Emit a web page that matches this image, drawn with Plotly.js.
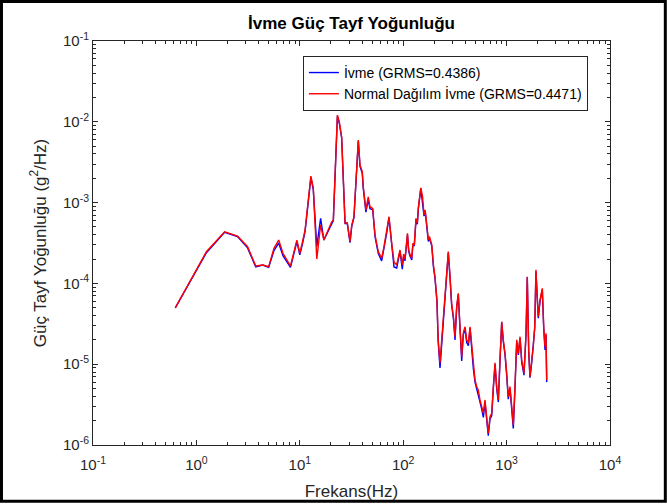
<!DOCTYPE html>
<html>
<head>
<meta charset="utf-8">
<script src="https://cdn.plot.ly/plotly-3.0.1.min.js"></script>
<style>
  html, body { margin: 0; padding: 0; background: #fff; }
  #chart { width: 667px; height: 504px; }
</style>
</head>
<body>
<div id="chart"></div>
<script>
// Frequency axis (Hz)
const freqHz = [
  0.625, 1.25, 1.875, 2.5, 3.125, 3.75, 4.375, 5.0, 5.625, 6.25,
  6.875, 8.125, 9.375, 10.0, 10.625, 11.25, 12.8, 13.5, 14.6, 15.9,
  17.1, 20.3, 21.1, 23.1, 24.1, 25.4, 27.4, 28.8, 30.6, 31.8,
  33.4, 36.8, 38.2, 40.2, 41.1, 43.6, 45.9, 47.7, 50.7, 53.4,
  57.4, 61.9, 65.2, 69.2, 72.9, 77.4, 81.5, 86.5,
  93.1, 98.0, 101, 104, 108, 110, 113, 116, 121, 124,
  128, 133, 137, 140, 148, 151, 154, 159, 163, 170,
  175, 179, 189, 196, 203, 212, 218, 227, 236, 245,
  259, 273, 284, 294, 306, 317, 329, 341, 354, 368,
  381, 396, 411, 427, 443, 459, 477, 495, 514, 532,
  553, 574, 596, 618, 642, 665, 691, 718, 744, 773,
  802, 832, 863, 897, 929, 966, 1002, 1038, 1079, 1120,
  1161, 1205, 1253, 1298, 1349, 1400, 1473, 1541, 1585, 1636,
  1683, 1750, 1812, 1871, 1923, 1982, 2027, 2104, 2215, 2285,
  2351, 2405, 2443
];

// Measured acceleration PSD (g^2/Hz)
const psdIvme = [
  4.97e-5, 2.40e-4, 4.30e-4, 3.80e-4, 2.75e-4, 1.60e-4, 1.69e-4, 1.58e-4, 2.55e-4, 3.15e-4,
  2.20e-4, 1.58e-4, 3.30e-4, 2.25e-4, 3.10e-4, 4.40e-4, 2.05e-3, 1.45e-3, 2.85e-4, 6.39e-4,
  3.44e-4, 5.60e-4, 6.00e-4, 1.17e-2, 9.60e-3, 6.30e-3, 5.50e-4, 5.50e-4, 3.20e-4, 5.10e-4,
  6.50e-4, 5.80e-3, 2.80e-3, 2.30e-3, 1.50e-3, 7.60e-4, 1.10e-3, 8.40e-4, 8.20e-4, 3.80e-4,
  2.35e-4, 1.90e-4, 2.70e-4, 4.20e-4, 6.50e-4, 3.00e-4, 1.60e-4, 1.55e-4,
  2.50e-4, 1.50e-4, 2.20e-4, 1.90e-4, 3.20e-4, 4.00e-4, 2.50e-4, 2.20e-4, 1.95e-4, 3.00e-4,
  2.90e-4, 6.20e-4, 5.40e-4, 8.30e-4, 1.50e-3, 1.20e-3, 1.10e-3, 6.80e-4, 7.90e-4, 4.80e-4,
  3.30e-4, 3.70e-4, 2.90e-4, 1.60e-4, 1.15e-4, 6.00e-5, 1.90e-5, 9.00e-6, 1.90e-5, 3.70e-5,
  9.80e-5, 2.40e-4, 1.15e-4, 5.40e-5, 3.70e-5, 2.00e-5, 5.00e-5, 7.30e-5, 2.80e-5, 1.10e-5,
  2.30e-5, 2.80e-5, 1.85e-5, 1.70e-5, 2.80e-5, 1.55e-5, 8.80e-6, 6.00e-6, 5.00e-6, 4.40e-6,
  3.40e-6, 2.80e-6, 2.20e-6, 3.40e-6, 1.90e-6, 1.30e-6, 2.10e-6, 2.30e-6, 5.00e-6, 1.00e-5,
  5.00e-6, 3.40e-6, 1.10e-5, 3.30e-5, 1.90e-5, 1.30e-5, 7.30e-6, 3.70e-6, 5.00e-6, 2.80e-6,
  1.60e-6, 5.00e-6, 1.90e-5, 1.30e-5, 2.10e-5, 1.05e-5, 7.30e-6, 2.30e-5, 1.20e-4, 1.40e-5,
  6.80e-6, 1.05e-5, 1.60e-5, 2.80e-5, 1.40e-4, 6.00e-5, 3.70e-5, 6.00e-5, 8.40e-5, 2.80e-5,
  1.50e-5, 2.30e-5, 6.00e-6
];

// Normal-distribution acceleration PSD (g^2/Hz)
const psdNormal = [
  4.97e-5, 2.47e-4, 4.36e-4, 3.86e-4, 2.85e-4, 1.64e-4, 1.69e-4, 1.61e-4, 2.72e-4, 3.44e-4,
  2.36e-4, 1.64e-4, 3.44e-4, 2.36e-4, 3.28e-4, 4.58e-4, 2.13e-3, 1.52e-3, 2.00e-4, 5.28e-4,
  3.44e-4, 5.75e-4, 6.09e-4, 1.21e-2, 1.00e-2, 6.49e-3, 5.60e-4, 5.63e-4, 3.28e-4, 5.28e-4,
  6.69e-4, 5.95e-3, 2.92e-3, 2.41e-3, 1.57e-3, 8.10e-4, 1.18e-3, 8.90e-4, 8.50e-4, 3.97e-4,
  2.47e-4, 2.05e-4, 2.85e-4, 4.36e-4, 6.69e-4, 3.13e-4, 1.84e-4, 1.69e-4,
  2.59e-4, 1.70e-4, 2.30e-4, 2.00e-4, 3.30e-4, 4.17e-4, 2.60e-4, 2.30e-4, 2.05e-4, 3.13e-4,
  3.00e-4, 6.39e-4, 5.60e-4, 8.60e-4, 1.52e-3, 1.24e-3, 1.18e-3, 7.00e-4, 8.10e-4, 5.00e-4,
  3.44e-4, 3.80e-4, 3.00e-4, 1.70e-4, 1.21e-4, 6.20e-5, 2.00e-5, 1.04e-5, 2.00e-5, 3.87e-5,
  1.00e-4, 2.47e-4, 1.21e-4, 5.68e-5, 3.87e-5, 2.19e-5, 5.15e-5, 7.54e-5, 2.91e-5, 1.24e-5,
  2.41e-5, 2.91e-5, 2.00e-5, 1.82e-5, 2.91e-5, 1.65e-5, 9.31e-6, 6.37e-6, 5.27e-6, 4.80e-6,
  3.61e-6, 2.98e-6, 2.47e-6, 3.61e-6, 2.04e-6, 1.40e-6, 2.24e-6, 2.47e-6, 5.27e-6, 1.04e-5,
  5.27e-6, 3.61e-6, 1.13e-5, 3.36e-5, 2.00e-5, 1.36e-5, 7.71e-6, 3.96e-6, 5.27e-6, 2.98e-6,
  1.77e-6, 5.27e-6, 2.00e-5, 1.36e-5, 2.19e-5, 1.13e-5, 7.71e-6, 2.41e-5, 1.21e-4, 1.50e-5,
  7.00e-6, 1.13e-5, 1.65e-5, 2.91e-5, 1.47e-4, 6.23e-5, 3.87e-5, 6.23e-5, 8.70e-5, 2.91e-5,
  1.65e-5, 2.41e-5, 6.37e-6
];

const seriesNames = ['İvme (GRMS=0.4386)', 'Normal Dağılım İvme (GRMS=0.4471)'];

const xTickVals = [0.1, 1, 10, 100, 1000, 10000];
const xTickText = ['10<sup>-1</sup>', '10<sup>0</sup>', '10<sup>1</sup>', '10<sup>2</sup>', '10<sup>3</sup>', '10<sup>4</sup>'];
const yTickVals = [1e-6, 1e-5, 1e-4, 1e-3, 1e-2, 1e-1];
const yTickText = ['10<sup>-6</sup>', '10<sup>-5</sup>', '10<sup>-4</sup>', '10<sup>-3</sup>', '10<sup>-2</sup>', '10<sup>-1</sup>'];

// minor tick positions 2..9 within each decade
function minorTicks(lo, hi) {
  const out = [];
  for (let e = lo; e < hi; e++) {
    for (let m = 2; m <= 9; m++) out.push(m * Math.pow(10, e));
  }
  return out;
}

const axisColor = '#262626';
const font = 'Liberation Sans, Arial, Helvetica, sans-serif';

const traces = [
  {
    x: freqHz, y: psdIvme, name: seriesNames[0], type: 'scatter', mode: 'lines',
    line: { color: '#0000ff', width: 1.4 }
  },
  {
    x: freqHz, y: psdNormal, name: seriesNames[1], type: 'scatter', mode: 'lines',
    line: { color: '#ff0000', width: 1.4 }
  }
];

const commonAxis = {
  type: 'log',
  showgrid: false,
  zeroline: false,
  showline: true,
  linecolor: axisColor,
  linewidth: 1,
  mirror: 'ticks',
  ticks: 'inside',
  ticklen: 5,
  tickwidth: 1,
  tickcolor: axisColor,
  tickmode: 'array',
  tickfont: { family: font, size: 15, color: axisColor }
};

const layout = {
  width: 667,
  height: 504,
  paper_bgcolor: '#ffffff',
  plot_bgcolor: '#ffffff',
  margin: { l: 93, r: 57, t: 41, b: 59 },
  showlegend: true,
  title: {
    text: '<b>İvme Güç Tayf Yoğunluğu</b>',
    font: { family: font, size: 17, color: '#000000' },
    x: 0.527, xanchor: 'center',
    y: 0.955, yanchor: 'middle'
  },
  xaxis: Object.assign({}, commonAxis, {
    range: [-1, 4],
    tickvals: xTickVals,
    ticktext: xTickText,
    ticklabelstandoff: 6,
    minor: { tickvals: minorTicks(-1, 4), ticks: 'inside', ticklen: 3, tickcolor: axisColor },
    title: { text: 'Frekans(Hz)', font: { family: font, size: 17, color: axisColor }, standoff: 13 }
  }),
  yaxis: Object.assign({}, commonAxis, {
    range: [-6, -1],
    tickvals: yTickVals,
    ticktext: yTickText,
    minor: { tickvals: minorTicks(-6, -1), ticks: 'inside', ticklen: 3, tickcolor: axisColor },
    title: { text: 'Güç Tayf Yoğunluğu (g<sup>2</sup>/Hz)', font: { family: font, size: 17, color: axisColor }, standoff: 12 }
  }),
  legend: {
    x: 0.406, xanchor: 'left',
    y: 0.963, yanchor: 'top',
    bgcolor: '#ffffff',
    bordercolor: axisColor,
    borderwidth: 1,
    font: { family: font, size: 14, color: '#000000' },
    tracegroupgap: 0
  },
  shapes: [
    {
      type: 'rect', xref: 'paper', yref: 'paper',
      x0: -0.177, x1: 1.107, y0: -0.139, y1: 1.098,
      line: { color: '#000000', width: 3 }, fillcolor: 'rgba(0,0,0,0)', layer: 'above'
    }
  ]
};

Plotly.newPlot('chart', traces, layout, { staticPlot: true, displayModeBar: false });
</script>
</body>
</html>
